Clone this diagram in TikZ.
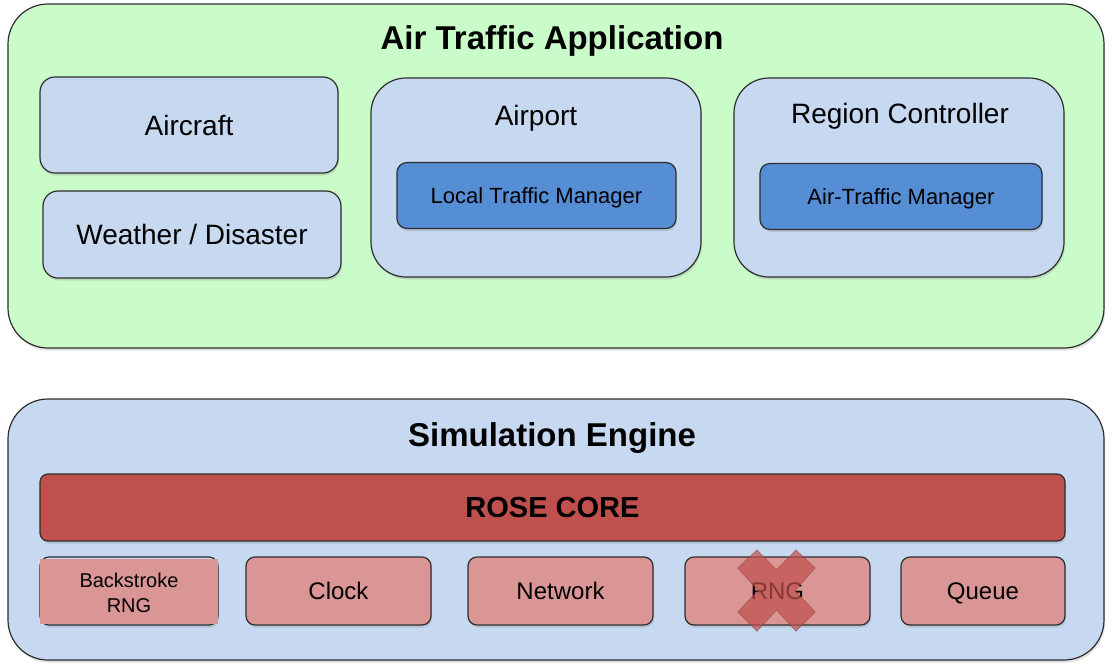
\documentclass[tikz,border=0pt]{standalone}
\usepackage{fontspec}
\setmainfont{Liberation Sans}
\usetikzlibrary{shadows}
\definecolor{appgreen}{HTML}{CAFCCA}
\definecolor{paleblue}{HTML}{C6D9F0}
\definecolor{midblue}{HTML}{558ED5}
\definecolor{corered}{HTML}{C0504D}
\definecolor{modpink}{HTML}{D99694}
\definecolor{edge}{HTML}{2E2E2E}

\begin{document}
\begin{tikzpicture}[x=1pt,y=-1pt,
  shade box/.style={draw=edge, line width=1.2pt, inner sep=0pt,
    drop shadow={shadow xshift=1pt, shadow yshift=-2.5pt, opacity=0.25}},
  layer/.style={shade box, rounded corners=40pt},
  part/.style={shade box, rounded corners=15pt, fill=paleblue},
  manager/.style={shade box, rounded corners=10pt, fill=midblue, minimum height=66pt},
  module/.style={shade box, rounded corners=9pt, fill=modpink, minimum height=68pt},
  title/.style={text height=23.6pt, text depth=0pt, font=\fontsize{33}{38}\selectfont\bfseries},
  big/.style={text height=20pt, text depth=0pt, font=\fontsize{28}{33}\selectfont},
  mid/.style={text height=17.2pt, text depth=0pt, font=\fontsize{24}{28}\selectfont},
  small/.style={text height=15.8pt, text depth=0pt, font=\fontsize{22}{26}\selectfont}]

\useasboundingbox (0,0) rectangle (1112,670);

% application layer
\node[layer, fill=appgreen, minimum width=1096pt, minimum height=344pt] (app) at (556,176) {};
\node[title] (apptitle) at (552,38) {Air Traffic Application};

\node[part, big, minimum width=298pt, minimum height=96pt] (aircraft) at (189,125) {Aircraft};
\node[part, big, minimum width=298pt, minimum height=87pt] (weather) at (192,234.5) {Weather / Disaster};

\node[part, rounded corners=35pt, minimum width=330pt, minimum height=199pt] (airport) at (536,177.5) {};
\node[big] (airportlbl) at (536,115) {Airport};
\node[manager, small, minimum width=279pt] (ltm) at (536.5,195.5) {Local Traffic Manager};

\node[part, rounded corners=35pt, minimum width=330pt, minimum height=199pt] (region) at (899,177.5) {};
\node[big] (regionlbl) at (900,113) {Region Controller};
\node[manager, small, minimum width=282pt] (atm) at (901,196.5) {Air-Traffic Manager};

% simulation engine
\node[layer, fill=paleblue, minimum width=1096pt, minimum height=261pt] (engine) at (556,529.5) {};
\node[title] (enginetitle) at (552,435) {Simulation Engine};

\node[shade box, rounded corners=8pt, fill=corered, minimum width=1025pt, minimum height=67pt,
  text height=20.8pt, text depth=0pt, font=\fontsize{29}{34}\selectfont\bfseries] (core) at (552.5,507.5) {ROSE CORE};

\node[module, minimum width=178pt, fill=none] (brngbox) at (129,591) {};
\fill[modpink] (40,558.5) rectangle (218,623.5);
\node[align=center, font=\fontsize{20}{25}\selectfont] (brng) at (129,593) {Backstroke\\RNG};

\node[module, mid, minimum width=185pt] (clock) at (338.5,591) {Clock};
\node[module, mid, minimum width=185pt] (network) at (560.5,591) {Network};
\node[module, mid, minimum width=185pt] (rng) at (777.5,591) {RNG};
\node[module, mid, minimum width=164pt] (queue) at (983,591) {Queue};

% crossed out
\begin{scope}[transparency group, opacity=0.7]
\filldraw[fill=corered, draw=corered!80!black, line width=0.8pt]
  (738,568) -- (757,550) -- (776.5,570) -- (796,550) -- (815,568) -- (795,590.5)
  -- (815,612) -- (796,631) -- (776.5,610) -- (757,631) -- (738,612) -- (758,590.5) -- cycle;
\end{scope}

\end{tikzpicture}
\end{document}
